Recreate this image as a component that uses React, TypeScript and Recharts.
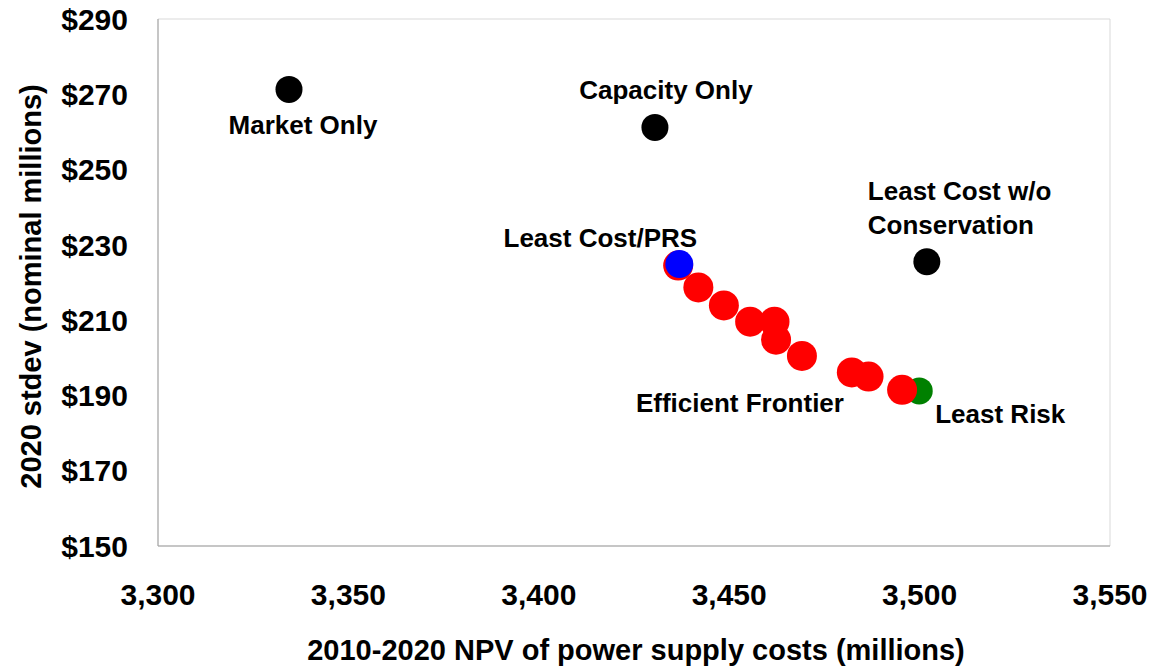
import { ScatterChart, Scatter, XAxis, YAxis, Label, ReferenceArea } from "recharts";

const xTicks = [3300, 3350, 3400, 3450, 3500, 3550];
const yTicks = [150, 170, 190, 210, 230, 250, 270, 290];

// single-portfolio points: [npv, stdev]
const marketOnly = [{ npv: 3334.4, stdev: 271.3 }];
const capacityOnly = [{ npv: 3430.5, stdev: 261.2 }];
const leastCostNoCons = [{ npv: 3501.9, stdev: 225.5 }];
const leastCostPRS = [{ npv: 3436.9, stdev: 224.9 }];
const leastRisk = [{ npv: 3499.9, stdev: 191.2 }];

const frontierNpv = [3436.6, 3441.9, 3448.6, 3455.5, 3461.9, 3462.3, 3469.1, 3482.2, 3486.6, 3495.4];
const frontierStdev = [224.5, 218.7, 213.9, 209.6, 209.6, 204.8, 200.5, 196.1, 195.0, 191.5];
const frontier = frontierNpv.map((npv, i) => ({ npv, stdev: frontierStdev[i] }));

const FONT = "'Liberation Sans', Arial, sans-serif";

type LabelCfg = {
  lines: string[];
  dx: number;
  dy: number;
  anchor: "start" | "middle" | "end";
  at?: number; // npv of point carrying the label
};

const dot = (fill: string, r: number, label?: LabelCfg) => (props: any) => {
  const { cx, cy, payload } = props;
  const showLabel = label && (label.at === undefined || payload?.npv === label.at);
  return (
    <g>
      <circle cx={cx} cy={cy} r={r} fill={fill} />
      {showLabel &&
        label!.lines.map((t, i) => (
          <text
            key={t}
            x={cx + label!.dx}
            y={cy + label!.dy + i * 34}
            textAnchor={label!.anchor}
            fontFamily={FONT}
            fontWeight="bold"
            fontSize={26}
            fill="#000"
          >
            {t}
          </text>
        ))}
    </g>
  );
};

export default function App() {
  return (
    <div style={{ position: "absolute", left: 0, top: 0, background: "#fff" }}>
      <ScatterChart width={1155} height={668} margin={{ top: 19, right: 45, left: 0, bottom: 0 }}>
        <ReferenceArea x1={3300} x2={3550} y1={150} y2={290} fill="none" stroke="#d9d9d9" strokeWidth={1} />
        <XAxis
          type="number"
          dataKey="npv"
          domain={[3300, 3550]}
          ticks={xTicks}
          height={122}
          tickLine={false}
          tickMargin={32}
          axisLine={{ stroke: "#a0a0a0" }}
          tickFormatter={(v) => Number(v).toLocaleString("en-US")}
          tick={{ fill: "#000", fontSize: 30, fontWeight: "bold", fontFamily: FONT }}
        >
          <Label
            content={(p: any) => {
              const vb = p.viewBox;
              return (
                <text
                  x={vb.x + vb.width / 2 + 2}
                  y={vb.y + vb.height - 8}
                  textAnchor="middle"
                  fontFamily={FONT}
                  fontWeight="bold"
                  fontSize={29}
                  fill="#000"
                >
                  2010-2020 NPV of power supply costs (millions)
                </text>
              );
            }}
          />
        </XAxis>
        <YAxis
          type="number"
          dataKey="stdev"
          domain={[150, 290]}
          ticks={yTicks}
          width={158}
          tickLine={false}
          tickMargin={24}
          axisLine={{ stroke: "#a0a0a0" }}
          tickFormatter={(v) => `$${v}`}
          tick={{ fill: "#000", fontSize: 30, fontWeight: "bold", fontFamily: FONT }}
        >
          <Label
            content={(p: any) => {
              const vb = p.viewBox;
              const cx = vb.x + 41;
              const cy = vb.y + vb.height / 2 + 4;
              return (
                <text
                  x={cx}
                  y={cy}
                  transform={`rotate(-90 ${cx} ${cy})`}
                  textAnchor="middle"
                  fontFamily={FONT}
                  fontWeight="bold"
                  fontSize={29}
                  fill="#000"
                >
                  2020 stdev (nominal millions)
                </text>
              );
            }}
          />
        </YAxis>
        <Scatter
          name="Market Only"
          data={marketOnly}
          isAnimationActive={false}
          shape={dot("#000", 13.5, { lines: ["Market Only"], dx: 14, dy: 45, anchor: "middle" })}
        />
        <Scatter
          name="Capacity Only"
          data={capacityOnly}
          isAnimationActive={false}
          shape={dot("#000", 13.5, { lines: ["Capacity Only"], dx: 11, dy: -28, anchor: "middle" })}
        />
        <Scatter
          name="Least Cost w/o Conservation"
          data={leastCostNoCons}
          isAnimationActive={false}
          shape={dot("#000", 13.5, { lines: ["Least Cost w/o", "Conservation"], dx: -59, dy: -62, anchor: "start" })}
        />
        <Scatter
          name="Least Risk"
          data={leastRisk}
          isAnimationActive={false}
          shape={dot("#008000", 13.5, { lines: ["Least Risk"], dx: 16, dy: 32, anchor: "start" })}
        />
        <Scatter
          name="Efficient Frontier"
          data={frontier}
          isAnimationActive={false}
          shape={dot("#ff0000", 15, {
            lines: ["Efficient Frontier"],
            dx: -62,
            dy: 56,
            anchor: "middle",
            at: frontierNpv[6],
          })}
        />
        <Scatter
          name="Least Cost/PRS"
          data={leastCostPRS}
          isAnimationActive={false}
          shape={dot("#0000ff", 14, { lines: ["Least Cost/PRS"], dx: -79, dy: -17, anchor: "middle" })}
        />
      </ScatterChart>
    </div>
  );
}
